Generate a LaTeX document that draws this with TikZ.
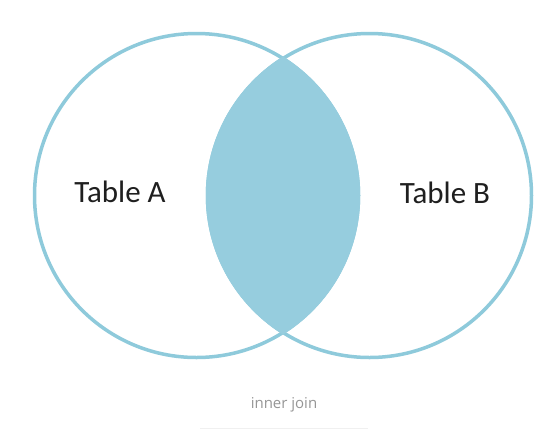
\documentclass[tikz,border=0pt]{standalone}
\usepackage{fontspec}
\setmainfont{Carlito}
\newfontfamily\capfont{Open Sans}
\definecolor{lensfill}{RGB}{150,205,222}
\definecolor{ringcol}{RGB}{142,202,219}
\definecolor{captiongray}{RGB}{150,150,150}
\definecolor{faintline}{RGB}{240,240,240}
\begin{document}
\begin{tikzpicture}[x=1pt,y=-1pt,
  ring/.style={draw=ringcol,line width=3.5pt},
  label/.style={font=\fontsize{31}{36}\selectfont,text=black!88,anchor=base,inner sep=0pt},
  caption/.style={font=\capfont\fontsize{15}{18}\selectfont,text=captiongray,anchor=base,inner sep=0pt}]
\useasboundingbox[fill=white] (0,0) rectangle (557,429);
\draw[ring] (196.5,195.5) circle[radius=162];
\draw[ring] (369.5,195.5) circle[radius=162];
\begin{scope}
  \clip (196.5,195.5) circle[radius=163.75];
  \fill[lensfill] (369.5,195.5) circle[radius=163.75];
\end{scope}
\node[label] (ta) at (120,202) {Table A};
\node[label] (tb) at (445,203) {Table B};
\node[caption] (cap) at (284,408) {inner join};
\fill[faintline] (200,427.5) rectangle (368,429);
\end{tikzpicture}
\end{document}
